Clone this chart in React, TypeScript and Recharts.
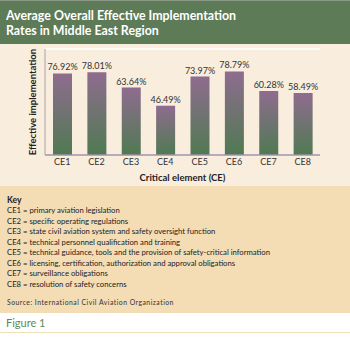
import React from 'react';
import { BarChart, Bar, XAxis, YAxis, CartesianGrid, LabelList } from 'recharts';

const categories = ['CE1', 'CE2', 'CE3', 'CE4', 'CE5', 'CE6', 'CE7', 'CE8'];
const rates = [76.92, 78.01, 63.64, 46.49, 73.97, 78.79, 60.28, 58.49];
const yTicks = [0, 25, 50, 75, 100];
const titleLines = ['Average Overall Effective Implementation', 'Rates in Middle East Region'];
const keyLines = [
  'CE1 = primary aviation legislation',
  'CE2 = specific operating regulations',
  'CE3 = state civil aviation system and safety oversight function',
  'CE4 = technical personnel qualification and training',
  'CE5 = technical guidance, tools and the provision of safety-critical information',
  'CE6 = licensing, certification, authorization and approval obligations',
  'CE7 = surveillance obligations',
  'CE8 = resolution of safety concerns',
];
const sourceText = 'Source: International Civil Aviation Organization';
const figureText = 'Figure 1';

const data = categories.map((c, i) => ({ name: c, value: rates[i] }));

const FONT = 'Lato, "Open Sans", sans-serif';

export default function App() {
  return (
    <div style={{ position: 'absolute', left: 0, top: 0, width: 350, height: 337, background: '#ffffff', fontFamily: FONT, overflow: 'hidden' }}>
      <div style={{ position: 'absolute', left: 0, top: 0, width: 350, height: 44, background: '#5e7b58', borderTop: '1px solid #8a9a86', boxSizing: 'border-box' }}>
        {titleLines.map((t, i) => (
          <div key={i} style={{ position: 'absolute', left: 6, top: 7 + i * 15, fontSize: 12.4, fontWeight: 700, color: '#ffffff', lineHeight: '15px', whiteSpace: 'nowrap' }}>{t}</div>
        ))}
      </div>
      <div style={{ position: 'absolute', left: 0, top: 44, width: 350, height: 142, background: '#f9eddd' }}>
        <BarChart width={350} height={142} data={data} margin={{ top: 5, right: 30, bottom: 0, left: 0 }} barSize={19}>
          <defs>
            <linearGradient id="barGrad" x1="0" y1="0" x2="0" y2="1">
              <stop offset="0%" stopColor="#8f6c8f" />
              <stop offset="100%" stopColor="#4f7a52" />
            </linearGradient>
          </defs>
          <CartesianGrid horizontal vertical={false} stroke="#ffffff" strokeWidth={1.5} />
          <XAxis
            dataKey="name"
            height={31}
            tickLine={false}
            tickSize={4}
            tickMargin={0}
            axisLine={{ stroke: '#a08fa6', strokeWidth: 1.5 }}
            tick={{ fontSize: 9, fill: '#333333', fontFamily: FONT }}
            label={{ value: 'Critical element (CE)', position: 'insideBottom', offset: 5, style: { fontSize: 9.5, fontWeight: 700, fill: '#222222', fontFamily: FONT } }}
          />
          <YAxis
            width={45}
            domain={[0, 100]}
            ticks={yTicks}
            tick={false}
            tickLine={false}
            axisLine={{ stroke: '#a8a0a8', strokeWidth: 1 }}
            label={{ value: 'Effective implementation', angle: -90, position: 'insideRight', offset: 12, style: { textAnchor: 'middle', fontSize: 9.5, fontWeight: 700, fill: '#222222', fontFamily: FONT } }}
          />
          <Bar dataKey="value" fill="url(#barGrad)" isAnimationActive={false}>
            <LabelList dataKey="value" position="top" offset={3} formatter={(v: number) => `${v.toFixed(2)}%`} style={{ fontSize: 9, fill: '#333333', fontFamily: FONT }} />
          </Bar>
        </BarChart>
      </div>
      <div style={{ position: 'absolute', left: 0, top: 186, width: 350, height: 127, background: '#f4dcb5' }}>
        <div style={{ position: 'absolute', left: 7, top: 9, fontSize: 8.5, fontWeight: 700, color: '#222222', lineHeight: '10px' }}>Key</div>
        {keyLines.map((t, i) => (
          <div key={i} style={{ position: 'absolute', left: 7, top: 19 + i * 10.5, fontSize: 7.7, color: '#222222', lineHeight: '10px', whiteSpace: 'nowrap' }}>{t}</div>
        ))}
        <div style={{ position: 'absolute', left: 7, top: 112, fontSize: 6.8, letterSpacing: 0.5, color: '#333333', lineHeight: '8px', whiteSpace: 'nowrap' }}>{sourceText}</div>
      </div>
      <div style={{ position: 'absolute', left: 6, top: 316, fontSize: 11, color: '#5a8a5c', lineHeight: '14px', whiteSpace: 'nowrap' }}>{figureText}</div>
      <div style={{ position: 'absolute', left: 0, top: 332, width: 350, height: 1, background: '#efdfbb' }} />
    </div>
  );
}
